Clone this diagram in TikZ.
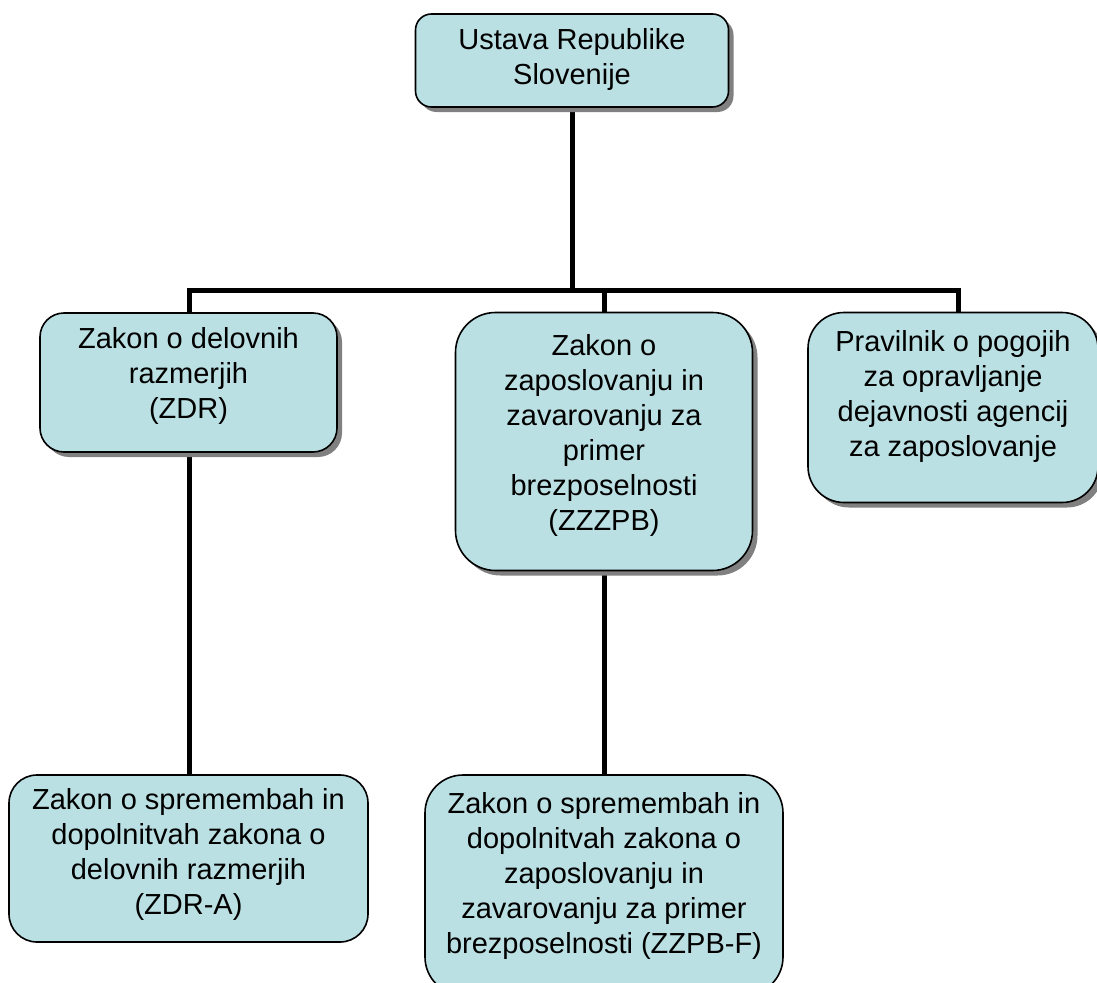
\documentclass[tikz,border=0pt]{standalone}
\usepackage{fontspec}
\setmainfont{Liberation Sans}
\usetikzlibrary{shadows,backgrounds}
\definecolor{boxfill}{HTML}{BBE0E3}
\tikzset{
  box/.style={draw=black, line width=1.6pt, fill=boxfill, rectangle},
  shad/.style={general shadow={fill=black!50, shadow xshift=5pt, shadow yshift=-5pt}},
  txt/.style={align=center, font=\fontsize{29}{35}\selectfont, inner sep=0pt},
  conn/.style={line width=5pt, line join=miter, line cap=butt}
}
\begin{document}
\begin{tikzpicture}[x=1pt,y=-1pt]
\useasboundingbox (0,0) rectangle (1097,982);
% boxes
\node[box,shad,rounded corners=16pt,minimum width=313pt,minimum height=93pt] (top) at (572,60.5) {};
\node[box,shad,rounded corners=24pt,minimum width=297pt,minimum height=139pt] (zdr) at (188.5,382.5) {};
\node[box,shad,rounded corners=40pt,minimum width=297pt,minimum height=258pt] (zzzpb) at (604,441.5) {};
\node[box,shad,rounded corners=36pt,minimum width=290pt,minimum height=190pt] (prav) at (953,407.5) {};
\node[box,rounded corners=28pt,minimum width=359pt,minimum height=167pt] (zdra) at (188.5,858.5) {};
\node[box,rounded corners=38pt,minimum width=358pt,minimum height=220pt] (zzpbf) at (604,885) {};
% texts
\node[txt] (ttop) at (572,60) {Ustava Republike\\Slovenije};
\node[txt] (tzdr) at (188.5,376) {Zakon o delovnih\\razmerjih\\(ZDR)};
\node[txt] (tzzzpb) at (604,435.5) {Zakon o\\zaposlovanju in\\zavarovanju za\\primer\\brezposelnosti\\(ZZZPB)};
\node[txt] (tprav) at (953,396) {Pravilnik o pogojih\\za opravljanje\\dejavnosti agencij\\za zaposlovanje};
\node[txt] (tzdra) at (188.5,854) {Zakon o spremembah in\\dopolnitvah zakona o\\delovnih razmerjih\\(ZDR-A)};
\node[txt] (tzzpbf) at (604,876) {Zakon o spremembah in\\dopolnitvah zakona o\\zaposlovanju in\\zavarovanju za primer\\brezposelnosti (ZZPB-F)};
% connectors
\coordinate (bar) at (572,290);
\coordinate (barL) at (189,290);
\coordinate (barR) at (958,290);
\begin{pgfonlayer}{background}
\draw[conn] (top.south) -- (top.south |- bar);
\draw[conn] (zdr.north -| barL) -- (barL) -- (barR) -- (barR |- prav.north);
\draw[conn] (bar -| zzzpb.north) -- (zzzpb.north);
\draw[conn] (zdr.south -| barL) -- (zdra.north -| barL);
\draw[conn] (zzzpb.south) -- (zzpbf.north);
\end{pgfonlayer}
\end{tikzpicture}
\end{document}
